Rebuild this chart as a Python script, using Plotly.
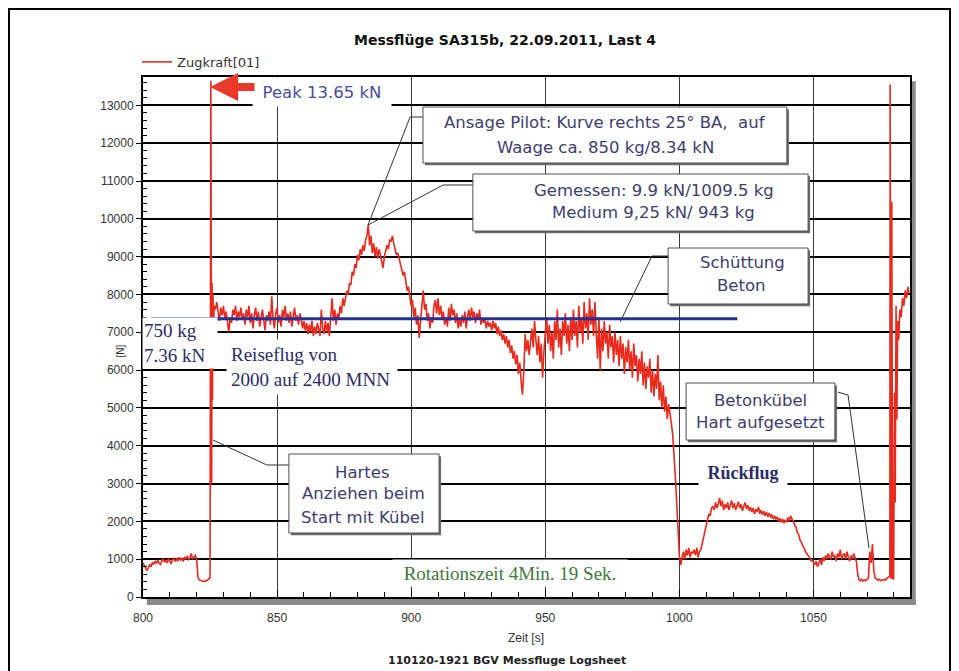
import plotly.graph_objects as go

# ---------------- data: Zugkraft [N] over Zeit [s] ----------------
# uniformly sampled stretches: (start time [s], sample step [s], force values [N])
pre_flight = (800.0, 0.5, [900, 820, 760, 700, 780, 850, 800, 900, 870, 950,
                           880, 980, 900, 860, 960, 1000, 920, 980, 900, 1010,
                           950, 880, 990, 1020, 940, 1000, 960, 1050, 980, 1020,
                           940, 1060, 1000, 1080, 990, 1030, 1150, 1000, 1060, 1100,
                           1000])
ground_dip = (820.5, 0.5, [520, 450, 430, 420, 410, 420, 430, 440, 480])
cruise_1 = (827.0, 0.5, [7600, 7800, 7500, 7300, 7650, 7450, 7700, 7350, 7550, 7200,
                         7000, 7400, 7250, 7600, 7450, 7700, 7300, 7550, 7400, 7650,
                         7350, 7500, 7200, 7600, 7400, 7700, 7250, 7500, 7100, 7450,
                         7650, 7300, 7550, 7150, 7400, 7600, 7350, 7050, 7450, 7300,
                         7550, 7200, 7950, 7350, 7100, 7500, 7650, 7250, 7450, 7150,
                         7600, 7400, 7700, 7300, 7500, 7250, 7550, 7150, 7400, 7650,
                         7300, 7450, 7200, 7500, 7350, 7100, 7300, 7050, 7250, 6950,
                         7200, 7000, 7300, 6900, 7150, 6950, 7250, 7050, 6900, 7600,
                         7100, 6950, 7300, 7000, 7250, 6900, 7400])
climb_turn = (870.5, 0.5, [7900, 7300, 7600, 7200, 7500, 7350, 7700, 7500, 7900, 7700,
                           7950, 8100, 8000, 8300, 8250, 8600, 8500, 8800, 8700, 9050,
                           8900, 9200, 9050, 9300, 9150, 9450, 9550, 9850])
turn_peak = (884.5, 0.5, [9300, 9550, 9100, 9350, 9000, 9250, 8950, 9200, 9050, 8900,
                          8700, 9000, 9150, 9300, 9200, 9450, 9400, 9550, 9350, 9200,
                          9050, 9100, 8950, 8800])
turn_exit = (896.5, 0.5, [8700, 8500, 8600, 8300, 8100, 8200, 7900, 7700, 7850, 7400,
                          7650, 7200, 7450, 6850, 7300, 7700])
cruise_2 = (904.5, 0.5, [8100, 7600, 7750, 7300, 7500, 7100, 7400, 7250, 7700, 7850,
                         7500, 7900, 7450, 7700, 7350, 7550, 7200, 7400, 7150, 7650,
                         7300, 7750, 7450, 7600, 7250, 7500, 7100, 7350, 7150, 7450,
                         7250, 7550, 7100, 7400, 7600, 7300, 7650, 7400, 7550, 7250,
                         7500, 7350, 7600, 7200, 7400, 7250, 7350, 7100, 7300, 7150,
                         7250, 7050])
cruise_3 = (930.5, 0.5, [7300, 7100, 7250, 6950, 7150, 6900, 7050, 6800, 6950, 6700,
                         6900, 6600, 6800, 6450, 6650, 6300, 6500, 6150, 6400, 5900,
                         6200, 5700, 5350, 6000, 6950, 6500, 6800, 6400, 6700, 7100,
                         6600, 7300, 6800, 6400, 6900, 6200, 6700, 5800, 6500, 7000])
pour_1 = (950.5, 0.5, [7400, 6700, 7200, 6500, 7000, 6300, 7300, 6800, 7600, 6600,
                       7100, 6400, 7300, 6900, 7500, 6700, 7200, 6500, 7400, 6800,
                       7600, 6900, 7300, 6600, 7700, 7000, 7400, 6700, 7800, 7100,
                       7500, 6800, 7900, 7200, 7600, 6900, 7800, 7000, 6300, 7400])
pour_2 = (970.5, 0.5, [6000, 7100, 6500, 7300, 6700, 7000, 6300, 7200, 6600, 6900,
                       6200, 7000, 6400, 6800, 6100, 6900, 6300, 6700, 5900, 6600,
                       6200, 6800, 6000, 6500, 5800, 6700, 6100, 6400, 5700, 6300,
                       5900, 6500, 5600, 6200, 5500, 6100, 5800, 6300, 5400, 6000,
                       5300, 5900, 5500, 6400, 5200, 5700, 5000, 5600, 4900, 5300,
                       4700, 5100])
pour_end = (996.5, 0.5, [4900, 4600, 4300, 3800, 3200, 2500, 1800, 1100, 850])
empty_hover = (1001.0, 0.5, [1050, 1200, 1000, 1250, 1100, 1300, 1050, 1200, 1150, 1250,
                             1100, 1300, 1050, 1200, 1250])
return_climb = (1008.5, 0.5, [1400, 1600, 1700, 1900, 2000, 2200, 2150, 2350, 2400, 2300])
return_flight = (1013.5, 0.5, [2500, 2350, 2450, 2620, 2400, 2550, 2300, 2450, 2350, 2500,
                               2300, 2450, 2550, 2350, 2480, 2300, 2420, 2520, 2350, 2450,
                               2280, 2400, 2500, 2330, 2430, 2280, 2380, 2250, 2350, 2200,
                               2320, 2250, 2380, 2200, 2300, 2170, 2270, 2150, 2250, 2120,
                               2220, 2100, 2180, 2060, 2150, 2050, 2120, 2000, 2080, 1980,
                               2060, 1950, 2040, 1980, 2100, 2000, 2150, 2050, 2020])
descent = (1043.0, 0.5, [1900, 1850, 1700, 1650, 1500, 1450, 1350, 1300, 1200, 1150,
                         1100, 1050, 950, 1000, 900])
approach = (1050.5, 0.5, [850, 950, 800, 900, 1000, 850, 1050, 950, 1100, 1000,
                          1150, 1050, 1000, 1200, 1050, 1100, 950, 1150, 1050, 1250,
                          1000, 1100, 1150, 1000, 1200, 1050, 950, 1100, 1000, 1150,
                          1050, 950])
set_down = (1066.5, 0.5, [600, 450, 430, 470, 420, 450, 430, 480, 500])
parked = (1073.5, 0.5, [480, 450, 470, 430, 460, 440, 470, 450, 500, 520, 550])

# irregular stretches: explicit times and values
liftoff_t = [825.0, 825.3, 825.45, 825.6, 825.75, 825.9, 826.1, 826.3, 826.5]
liftoff_v = [500, 13650, 8500, 3000, 8300, 5200, 8000, 6800, 7700]
bump_t = [1071.0, 1071.5, 1072.0, 1072.5, 1073.0]
bump_v = [1200, 900, 1400, 700, 500]
final_t = [1078.6, 1078.9, 1079.2, 1079.5, 1079.9, 1080.2, 1080.5, 1080.8, 1081.1, 1081.4,
           1081.8, 1082.2, 1082.7, 1083.2, 1083.7, 1084.2, 1084.7, 1085.2, 1085.6]
final_v = [13550, 480, 10450, 500, 470, 5400, 2500, 7700, 4700, 7300,
           6800, 7600, 7400, 7900, 7700, 8100, 7900, 8200, 8050]

# reference level 750 kg = 7.36 kN
ref_t = [803.0, 1021.6]
ref_v = [7360, 7360]

# axis ticks
x_tick_vals = [800, 850, 900, 950, 1000, 1050]
x_tick_text = ["800", "850", "900", "950", "1000", "1050"]
y_tick_vals = [0, 1000, 2000, 3000, 4000, 5000, 6000, 7000, 8000, 9000, 10000, 11000, 12000, 13000]
y_tick_text = ["0", "1000", "2000", "3000", "4000", "5000", "6000", "7000", "8000", "9000",
               "10000", "11000", "12000", "13000"]

# ---------------- assemble series ----------------
uniform = [pre_flight, ground_dip, cruise_1, climb_turn, turn_peak, turn_exit, cruise_2,
           cruise_3, pour_1, pour_2, pour_end, empty_hover, return_climb, return_flight,
           descent, approach, set_down, parked]
explicit = [(liftoff_t, liftoff_v), (bump_t, bump_v), (final_t, final_v)]
pts = []
for t0, dt, vals in uniform:
    pts += [(round(t0 + i * dt, 3), val) for i, val in enumerate(vals)]
for ts, vs in explicit:
    pts += list(zip(ts, vs))
pts.sort()
time_s = [p[0] for p in pts]
force_n = [p[1] for p in pts]

# ---------------- figure ----------------
fig = go.Figure()
fig.add_trace(go.Scatter(x=time_s, y=force_n, mode="lines", name="Zugkraft[01]",
                         line=dict(color="#e8291c", width=1.6)))
fig.add_trace(go.Scatter(x=ref_t, y=ref_v, mode="lines", showlegend=False,
                         line=dict(color="#22309a", width=3), hoverinfo="skip"))

TICKFONT = dict(family="Liberation Sans", size=12, color="#333333")
fig.update_xaxes(range=[800, 1086], tickmode="array", tickvals=x_tick_vals, ticktext=x_tick_text,
                 showgrid=True, gridcolor="#3a3a3a", gridwidth=1, zeroline=False,
                 showline=True, linecolor="black", linewidth=2, mirror=True,
                 ticks="inside", ticklen=7, tickcolor="black", ticklabelstandoff=9,
                 minor=dict(tick0=800, dtick=10, ticks="inside", ticklen=5, tickcolor="black", showgrid=False),
                 tickfont=TICKFONT)
fig.update_yaxes(range=[0, 13750], tickmode="array", tickvals=y_tick_vals, ticktext=y_tick_text,
                 showgrid=True, gridcolor="black", gridwidth=1.6, zeroline=False,
                 showline=True, linecolor="black", linewidth=2, mirror=True,
                 ticks="outside", ticklen=5, tickcolor="black",
                 minor=dict(tick0=0, dtick=200, ticks="inside", ticklen=4, tickcolor="black", showgrid=False),
                 tickfont=TICKFONT)

shapes = []
# outer page frame and plot shadow
shapes.append(dict(type="rect", xref="paper", yref="paper", x0=-0.1747, x1=1.0522, y0=-0.2, y1=1.1308,
                   line=dict(color="black", width=2), fillcolor="rgba(0,0,0,0)", layer="below"))
shapes.append(dict(type="rect", xref="paper", yref="paper", x0=0.005, x1=1.0075, y0=-0.0154, y1=-0.0038,
                   line_width=0, fillcolor="#8a8a8a", layer="below"))
shapes.append(dict(type="rect", xref="paper", yref="paper", x0=1.0013, x1=1.0075, y0=-0.0154, y1=0.992,
                   line_width=0, fillcolor="#8a8a8a", layer="below"))


def box(t0, t1, v_top, v_bot):
    shapes.append(dict(type="rect", xref="x", yref="y", x0=t0 + 0.75, x1=t1 + 0.75,
                       y0=v_bot - 60, y1=v_top - 60, fillcolor="#6b6b6b", line_width=0, layer="above"))
    shapes.append(dict(type="rect", xref="x", yref="y", x0=t0, x1=t1, y0=v_bot, y1=v_top,
                       fillcolor="white", line=dict(color="#505050", width=1), layer="above"))


def leader(points):
    path = "M " + " L ".join(f"{a},{b}" for a, b in points)
    shapes.append(dict(type="path", xref="x", yref="y", path=path,
                       line=dict(color="#333333", width=1), layer="above"))


leader([(883.9, 9836), (899.6, 12692), (904.4, 12692)])
leader([(883.9, 9836), (911.9, 10894), (923.0, 10894)])
leader([(977.9, 7271), (989.8, 9016), (995.8, 9016)])
leader([(826.1, 4151), (846.2, 3490), (854.4, 3490)])
leader([(1059.1, 5420), (1062.9, 5341), (1070.7, 1296)])

box(904.4, 1040.1, 12957, 11476)   # Ansage Pilot
box(923.0, 1048.0, 11185, 9678)    # Gemessen
box(995.8, 1048.0, 9228, 7748)     # Schüttung Beton
box(854.4, 910.4, 3781, 1692)      # Hartes Anziehen
box(1002.5, 1058.0, 5659, 4151)    # Betonkübel

annotations = []
SANS = dict(family="DejaVu Sans", size=16.5, color="#3d3d70")
SERIF = dict(family="Liberation Serif", size=19, color="#2b2b6b")


def line_text(t, v, text, font=SANS):
    annotations.append(dict(x=t, y=v, xref="x", yref="y", text=text, showarrow=False, font=font,
                            xanchor="center", yanchor="middle"))


line_text(972.3, 12534, "Ansage Pilot: Kurve rechts 25° BA,\u00a0 auf")
line_text(972.3, 11899, "Waage ca. 850 kg/8.34 kN")
line_text(990.5, 10762, "Gemessen: 9.9 kN/1009.5 kg")
line_text(990.5, 10154, "Medium 9,25 kN/ 943 kg")
line_text(1023.4, 8832, "Schüttung")
line_text(1023.0, 8250, "Beton")
line_text(1030.4, 5209, "Betonkübel")
line_text(1030.4, 4627, "Hart aufgesetzt")
line_text(882.0, 3305, "Hartes")
line_text(882.4, 2724, "Anziehen beim")
line_text(882.0, 2115, "Start mit Kübel")

# free labels with white background
annotations.append(dict(x=866.7, y=13353, xref="x", yref="y", text="Peak 13.65 kN", showarrow=False,
                        font=dict(family="DejaVu Sans", size=16.5, color="#4a4aa0"),
                        bgcolor="white", width=136, height=26, borderpad=1))
annotations.append(dict(x=813.8, y=6716, xref="x", yref="y", text="750 kg<br>7.36 kN", showarrow=False,
                        font=SERIF, align="left", bgcolor="white", width=72, height=48, borderpad=1))
annotations.append(dict(x=863.0, y=6095, xref="x", yref="y", text="Reiseflug von<br>2000 auf 2400 MNN",
                        showarrow=False, font=SERIF, align="left", bgcolor="white",
                        width=162, height=46, borderpad=4))
annotations.append(dict(x=1023.7, y=3279, xref="x", yref="y", text="<b>Rückflug</b>", showarrow=False,
                        font=dict(family="Liberation Serif", size=18, color="#2b2b6b"),
                        bgcolor="white", width=84, height=22, borderpad=2))
annotations.append(dict(x=936.8, y=635, xref="x", yref="y", text="Rotationszeit 4Min. 19 Sek.",
                        showarrow=False, font=dict(family="Liberation Serif", size=19, color="#3c7a3c"),
                        bgcolor="white", width=230, height=22, borderpad=2))
# red peak arrow
annotations.append(dict(x=825.0, y=13486, xref="x", yref="y", text="", showarrow=True,
                        ax=46, ay=0, arrowhead=2, arrowsize=0.7, arrowwidth=8, arrowcolor="#e83a2a",
                        standoff=0))
# axis titles and footer
annotations.append(dict(x=0.4994, y=-0.0788, xref="paper", yref="paper", text="Zeit [s]", showarrow=False,
                        xanchor="center", yanchor="middle",
                        font=dict(family="Liberation Sans", size=12, color="#333333")))
annotations.append(dict(x=0.4746, y=-0.1212, xref="paper", yref="paper",
                        text="<b>110120-1921 BGV Messfluge Logsheet</b>", showarrow=False,
                        xanchor="center", yanchor="middle",
                        font=dict(family="DejaVu Sans", size=11, color="#222222")))
annotations.append(dict(x=-0.0287, y=0.474, xref="paper", yref="paper", text="[N]", showarrow=False,
                        xanchor="center", yanchor="middle",
                        textangle=-90, font=dict(family="Liberation Sans", size=10, color="#333333")))

# the page body adds an 8 px offset, so the figure is laid out 8 px up/left
fig.update_layout(
    width=943, height=663, autosize=False,
    margin=dict(l=135, r=41, t=69, b=74),
    paper_bgcolor="white", plot_bgcolor="white",
    title=dict(text="<b>Messflüge SA315b, 22.09.2011, Last 4</b>", x=0.527, xanchor="center",
               y=1 - 32 / 663, yanchor="middle",
               font=dict(family="DejaVu Sans", size=14, color="#111111")),
    showlegend=True,
    legend=dict(x=-0.0078, y=1.029, xanchor="left", yanchor="middle", bgcolor="rgba(0,0,0,0)",
                font=dict(family="DejaVu Sans", size=13, color="#333333")),
    shapes=shapes, annotations=annotations,
)

fig.write_html("out.html")
